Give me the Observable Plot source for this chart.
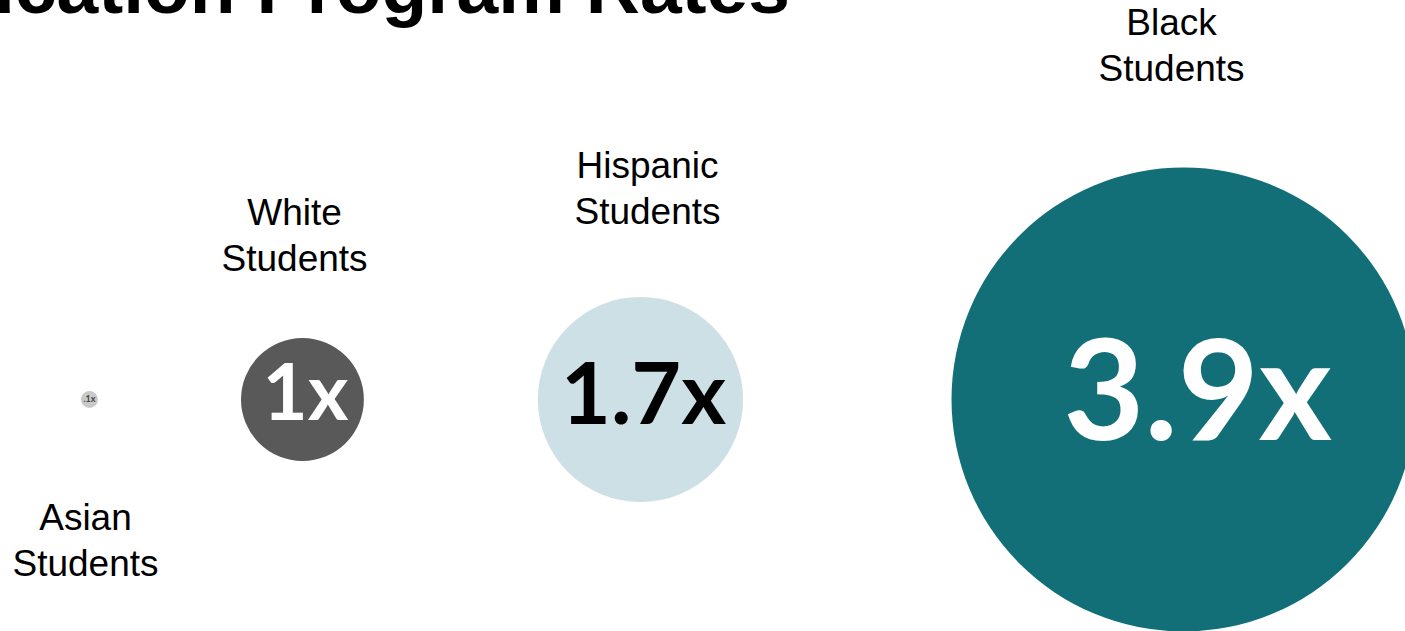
<!DOCTYPE html>
<html>
<head>
<meta charset="utf-8">
<script src="https://cdn.jsdelivr.net/npm/d3@7"></script>
<script src="https://cdn.jsdelivr.net/npm/@observablehq/plot@0.6"></script>
<style>
  html, body { margin: 0; padding: 0; background: #fff; }
  body { width: 1405px; height: 631px; position: relative; overflow: hidden; }
  #title {
    position: absolute; right: 615px; top: -50px; white-space: nowrap;
    font: bold 75px "Liberation Sans", Arial, sans-serif; line-height: 75px; color: #000; margin: 0;
  }
  #chart { position: absolute; left: 0; top: 0; }
</style>
</head>
<body>
<h1 id="title">Education Program Rates</h1>
<div id="chart"></div>
<script>
// ---- data ----
const groups = ["Asian Students", "White Students", "Hispanic Students", "Black Students"];
const rates = [0.1, 1, 1.7, 3.9];
const rateLabels = [".1x", "1x", "1.7x", "3.9x"];

// ---- layout & style (fractions of the frame) ----
const circleX = [0.0633, 0.2149, 0.4555, 0.8420];
const circleY = 0.6323;
const numberX = [0.0633, 0.2171, 0.4577, 0.8520];
const numberY = [0.6323, 0.6252, 0.6276, 0.6249];
const labelX = [0.0605, 0.2093, 0.4605, 0.8335];
const labelY = [0.8518, 0.3692, 0.2939, 0.0681];
const fills = ["#c9c9c9", "#595959", "#cde0e6", "#126f77"];
const numberColors = ["#444444", "#ffffff", "#000000", "#ffffff"];
const numberSizes = [9, 78, 86, 140];

const rows = groups.map((g, i) => ({
  group: g,
  rate: rates[i],
  label: rateLabels[i],
  cx: circleX[i],
  nx: numberX[i],
  ny: numberY[i],
  lx: labelX[i],
  ly: labelY[i],
  fill: fills[i],
  tcolor: numberColors[i],
  fs: numberSizes[i],
  text: g.replace(" ", "\n")
}));

const chart = Plot.plot({
  width: 1405,
  height: 631,
  margin: 0,
  x: { domain: [0, 1], range: [0, 1405], axis: null },
  y: { domain: [0, 1], range: [0, 631], axis: null },
  r: { type: "linear", domain: [0, 0.1, 3.9], range: [0, 8.5, 232] },
  color: { type: "identity" },
  marks: [
    Plot.dot(rows, { x: "cx", y: () => circleY, r: "rate", fill: "fill", stroke: null }),
    Plot.text(rows, {
      x: "nx", y: "ny", text: "label", fill: "tcolor", fontSize: "fs",
      fontFamily: "Lato, 'Open Sans', sans-serif", fontWeight: 700
    }),
    Plot.text(rows, {
      x: "lx", y: "ly", text: "text", fill: "#000", fontSize: 37, lineHeight: 1.24,
      lineAnchor: "middle", fontFamily: "'Liberation Sans', Arial, sans-serif"
    })
  ]
});
document.getElementById("chart").appendChild(chart);
</script>
</body>
</html>
